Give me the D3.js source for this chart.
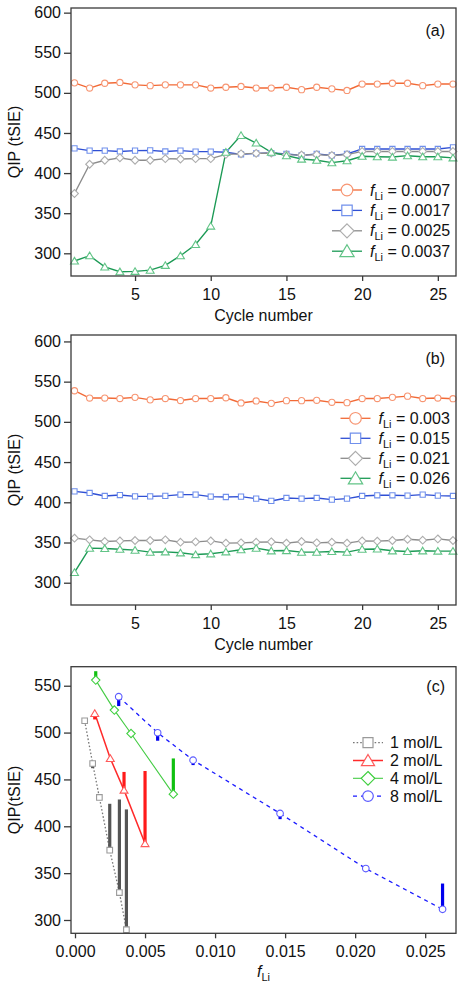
<!DOCTYPE html>
<html><head><meta charset="utf-8">
<script src="https://cdn.jsdelivr.net/npm/d3@7"></script>
<style>
html,body{margin:0;padding:0;background:#fff;}
svg{display:block;font-family:"Liberation Sans",Arial,Helvetica,sans-serif;}
</style></head>
<body>
<svg id="chart" width="463" height="987"></svg>
<script>
// ---------- DATA ----------
const cycles = [1,2,3,4,5,6,7,8,9,10,11,12,13,14,15,16,17,18,19,20,21,22,23,24,25,26];

// Panel (a)
const aLabels = ["0.0007","0.0017","0.0025","0.0037"];
const a0007 = [512.5,506,512,513,510,509,510,510,510,506,507,508,506,506,507,504,507,505,503,511,511,512,512,509,511,511];
const a0017 = [430.8,428,428,427,428,428.3,427,428,426.7,426.7,426,423.3,424.6,425,424,422,424,422,424,430,430,430,430,430,430,432];
const a0025 = [374.5,411,416,419,416,416,418,417.5,418,418,423.3,424,424.6,425,423,422.5,423,422,423,427,427,427,427,427,427,427];
const a0037 = [290.4,297,283,277,277.5,279,285,297,311,334,426,447,437.5,426,421.7,417.5,416,413,415.4,421,420.4,420,421.7,420.4,420.4,419];

// Panel (b)
const bLabels = ["0.003","0.015","0.021","0.026"];
const b003 = [538.7,529.6,529.6,529,530.5,527.4,529,526.5,529,529,530,523.5,526,523,526.4,526.4,526.8,524.3,523.9,529,529,530.5,532,529,529.6,528.8];
const b015 = [413.6,411.6,407.9,409,407.4,407.4,408,409.5,409.5,407,406.6,407,404.5,401.7,405.4,404.5,405.4,403.3,404.5,407.9,408.7,408.7,408.3,409.5,408.3,407.9];
const b021 = [355.4,353.3,351.2,352,352.5,352.5,353.3,350.4,350.8,352,349.2,349.6,350.4,350.8,349.2,351.2,349.6,350.4,349.2,352,351.7,352.5,354,352.9,354.5,352.5];
const b026 = [312.8,343,342.6,341.7,340.5,338,338.4,337.2,335,336,338.4,341,343,339.7,340,338,338,338.8,338,341.7,342,339.7,338.8,339.7,339.3,339.3];

// Panel (c)
const cLabels = ["1 mol/L","2 mol/L","4 mol/L","8 mol/L"];
const c1f = [0.00069,0.00126,0.00174,0.00248,0.00317,0.00367];
const c1q = [512.6,467,430.8,374.5,329.3,289.7];
const c1end = [null,462,null,424,428.6,418];
const c2f = [0.00141,0.00252,0.0035,0.005];
const c2q = [520.5,472.4,438.6,381.6];
const c2end = [514,null,458,459];
const c4f = [0.00148,0.00281,0.004,0.00702];
const c4q = [556,524,499,434.3];
const c4end = [565.5,null,null,472.4];
const c8f = [0.00312,0.0059,0.00843,0.01464,0.02076,0.02624];
const c8q = [538.3,499.8,470.6,413.7,354.9,311.4];
const c8end = [528.3,491.3,465.3,407.6,null,338.9];

const qipTicks = [300,350,400,450,500,550,600];
const qipTicksC = [300,350,400,450,500,550];
const cycleTicks = [5,10,15,20,25];
const fTicks = [0,0.005,0.01,0.015,0.02,0.025];

// ---------- DRAWING ----------
const svg = d3.select("#chart");
const FS = 16;
const frameColor = "#3a3a3a";

const markerPath = {
  circle: r => d3.symbol(d3.symbolCircle, Math.PI*r*r)(),
  square: r => d3.symbol(d3.symbolSquare, (2*r)*(2*r))(),
  diamond: r => `M0,${-r}L${r},0L0,${r}L${-r},0Z`,
  triangle: r => `M0,${-r}L${r*1.1},${r*0.85}L${-r*1.1},${r*0.85}Z`
};
const markerSize = {circle:3.1, square:2.6, diamond:3.9, triangle:3.6};
const legendMarkerSize = {circle:5.8, square:5.2, diamond:7, triangle:6.5};

function frame(g, x0, y0, w, h){
  g.append("rect").attr("x",x0).attr("y",y0).attr("width",w).attr("height",h)
    .attr("fill","none").attr("stroke",frameColor).attr("stroke-width",1.3);
}

function styleAxis(ax){
  ax.select(".domain").remove();
  ax.selectAll(".tick line").attr("stroke",frameColor).attr("stroke-width",1.3);
  ax.selectAll(".tick text").attr("fill","#111").attr("font-size",FS);
}

function legendRow(g, x, y, s, labelNodes){
  const row = g.append("g").attr("transform",`translate(${x},${y})`);
  row.append("line").attr("x1",-15).attr("x2",15).attr("y1",0).attr("y2",0)
    .attr("stroke",s.line).attr("stroke-width",s.lw||1.3).attr("stroke-dasharray",s.dash||null);
  row.append("path").attr("d",markerPath[s.shape](legendMarkerSize[s.shape]))
    .attr("fill","#fff").attr("stroke",s.marker).attr("stroke-width",1.2);
  const t = row.append("text").attr("x",s.tx).attr("y",0).attr("dy","0.35em").attr("font-size",FS).attr("fill","#111");
  labelNodes(t);
}

function fLabel(t, val){
  t.append("tspan").attr("font-style","italic").text("f");
  t.append("tspan").attr("font-size",11).attr("dy",4).text("Li");
  t.append("tspan").attr("dy",-4).text(" = " + val);
}

function cyclePanel(cfg){
  const L=71, R=456, T=cfg.top, B=cfg.bottom;
  const g = svg.append("g");
  const x = d3.scaleLinear().domain([0.77,26.2]).range([L,R]);
  const y = d3.scaleLinear().domain(cfg.ydom).range([B,T]);

  const ax = g.append("g").attr("transform",`translate(${L},0)`)
    .call(d3.axisLeft(y).tickValues(qipTicks).tickSize(7).tickPadding(3).tickFormat(d3.format("d")));
  styleAxis(ax);
  const bx = g.append("g").attr("transform",`translate(0,${B})`)
    .call(d3.axisBottom(x).tickValues(cycleTicks).tickSize(5).tickPadding(8).tickFormat(d3.format("d")));
  styleAxis(bx);

  const line = d3.line().x((d,i)=>x(cycles[i])).y(d=>y(d));
  cfg.series.forEach(s=>{
    g.append("path").datum(s.values).attr("d",line).attr("fill","none")
      .attr("stroke",s.line).attr("stroke-width",1.4);
  });
  cfg.series.forEach(s=>{
    g.selectAll(null).data(s.values).enter().append("path")
      .attr("transform",(d,i)=>`translate(${x(cycles[i])},${y(d)})`)
      .attr("d",markerPath[s.shape](markerSize[s.shape]))
      .attr("fill","#fff").attr("stroke",s.marker).attr("stroke-width",1.1);
  });
  frame(g,L,T,R-L,B-T);

  g.append("text").attr("x",445).attr("y",T+cfg.labelDy).attr("text-anchor","end")
    .attr("font-size",FS).attr("fill","#111").text(cfg.tag);
  g.append("text").attr("x",(L+R)/2).attr("y",cfg.xTitleY).attr("text-anchor","middle")
    .attr("font-size",FS).attr("fill","#111").text("Cycle number");
  g.append("text").attr("transform",`translate(20,${(T+B)/2}) rotate(-90)`)
    .attr("text-anchor","middle").attr("font-size",FS).attr("fill","#111").text("QIP (tSIE)");

  cfg.series.forEach((s,i)=>{
    legendRow(g, cfg.legX, cfg.legY + i*cfg.legDy, Object.assign({tx:23},s), t=>fLabel(t, cfg.labels[i]));
  });
}

const cOrange = {line:"#f26a36", marker:"#f79572", shape:"circle"};
const cBlue = {line:"#2f4fd4", marker:"#7090ec", shape:"square"};
const cGray = {line:"#8c8c8c", marker:"#adadad", shape:"diamond"};
const cGreen = {line:"#1c9a55", marker:"#62c487", shape:"triangle"};

cyclePanel({
  top:8, bottom:276, ydom:[271.7,605.8], tag:"(a)", labelDy:28, xTitleY:321,
  labels:aLabels, legX:347, legY:190, legDy:20.4,
  series:[
    Object.assign({values:a0007},cOrange),
    Object.assign({values:a0017},cBlue),
    Object.assign({values:a0025},cGray),
    Object.assign({values:a0037},cGreen)
  ]
});

cyclePanel({
  top:335, bottom:605, ydom:[272.3,608], tag:"(b)", labelDy:29, xTitleY:650,
  labels:bLabels, legX:355.5, legY:418.3, legDy:20,
  series:[
    Object.assign({values:b003},cOrange),
    Object.assign({values:b015},cBlue),
    Object.assign({values:b021},cGray),
    Object.assign({values:b026},cGreen)
  ]
});

// Panel (c)
(function(){
  const L=71, R=456, T=666.7, B=933.3;
  const g = svg.append("g");
  const x = d3.scaleLinear().domain([-0.000286,0.0272]).range([L,R]);
  const y = d3.scaleLinear().domain([285.8,570.3]).range([B,T]);

  const ax = g.append("g").attr("transform",`translate(${L},0)`)
    .call(d3.axisLeft(y).tickValues(qipTicksC).tickSize(7).tickPadding(3).tickFormat(d3.format("d")));
  styleAxis(ax);
  const bx = g.append("g").attr("transform",`translate(0,${B})`)
    .call(d3.axisBottom(x).tickValues(fTicks).tickSize(5).tickPadding(7).tickFormat(d3.format(".3f")));
  styleAxis(bx);

  const series = [
    {f:c1f, q:c1q, end:c1end, line:"#777", marker:"#9a9a9a", bar:"#555", shape:"square", dash:"1.6,2", lw:1.3},
    {f:c2f, q:c2q, end:c2end, line:"#ff2a2a", marker:"#ff5a5a", bar:"#ff1a1a", shape:"triangle", dash:null, lw:1.5},
    {f:c4f, q:c4q, end:c4end, line:"#44cc44", marker:"#3fcf3f", bar:"#10c010", shape:"diamond", dash:null, lw:1.1},
    {f:c8f, q:c8q, end:c8end, line:"#1a1aff", marker:"#5b5bff", bar:"#0000ee", shape:"circle", dash:"4,4", lw:1.3}
  ];
  const cMarkerSize = {circle:3.3, square:2.8, diamond:4.2, triangle:3.6};

  series.forEach(s=>{
    const pts = s.f.map((f,i)=>[f,s.q[i]]);
    g.append("path").datum(pts).attr("d",d3.line().x(d=>x(d[0])).y(d=>y(d[1])))
      .attr("fill","none").attr("stroke",s.line).attr("stroke-width",s.lw).attr("stroke-dasharray",s.dash);
  });
  series.forEach(s=>{
    s.f.forEach((f,i)=>{
      if(s.end[i]==null) return;
      g.append("line").attr("x1",x(f)).attr("x2",x(f)).attr("y1",y(s.q[i])).attr("y2",y(s.end[i]))
        .attr("stroke",s.bar).attr("stroke-width",3.2);
    });
  });
  series.forEach(s=>{
    g.selectAll(null).data(s.f).enter().append("path")
      .attr("transform",(d,i)=>`translate(${x(d)},${y(s.q[i])})`)
      .attr("d",markerPath[s.shape](cMarkerSize[s.shape]))
      .attr("fill","#fff").attr("stroke",s.marker).attr("stroke-width",1.1);
  });
  frame(g,L,T,R-L,B-T);

  g.append("text").attr("x",445).attr("y",692).attr("text-anchor","end")
    .attr("font-size",FS).attr("fill","#111").text("(c)");
  const xt = g.append("text").attr("x",(L+R)/2).attr("y",977).attr("text-anchor","middle")
    .attr("font-size",FS).attr("fill","#111");
  xt.append("tspan").attr("font-style","italic").text("f");
  xt.append("tspan").attr("font-size",11).attr("dy",4).text("Li");
  g.append("text").attr("transform",`translate(20,${(T+B)/2}) rotate(-90)`)
    .attr("text-anchor","middle").attr("font-size",FS).attr("fill","#111").text("QIP(tSIE)");

  const legMS = {circle:5.3, square:5, diamond:6.8, triangle:6};
  series.forEach((s,i)=>{
    const row = g.append("g").attr("transform",`translate(368,${742.7 + i*17.8})`);
    row.append("line").attr("x1",-15).attr("x2",15).attr("attr",0)
      .attr("stroke",s.line).attr("stroke-width",s.lw).attr("stroke-dasharray",s.dash);
    row.append("path").attr("d",markerPath[s.shape](legMS[s.shape]))
      .attr("fill","#fff").attr("stroke",s.marker).attr("stroke-width",1.2);
    row.append("text").attr("x",22).attr("dy","0.35em").attr("font-size",FS).attr("fill","#111").text(cLabels[i]);
  });
})();
</script>
</body></html>
